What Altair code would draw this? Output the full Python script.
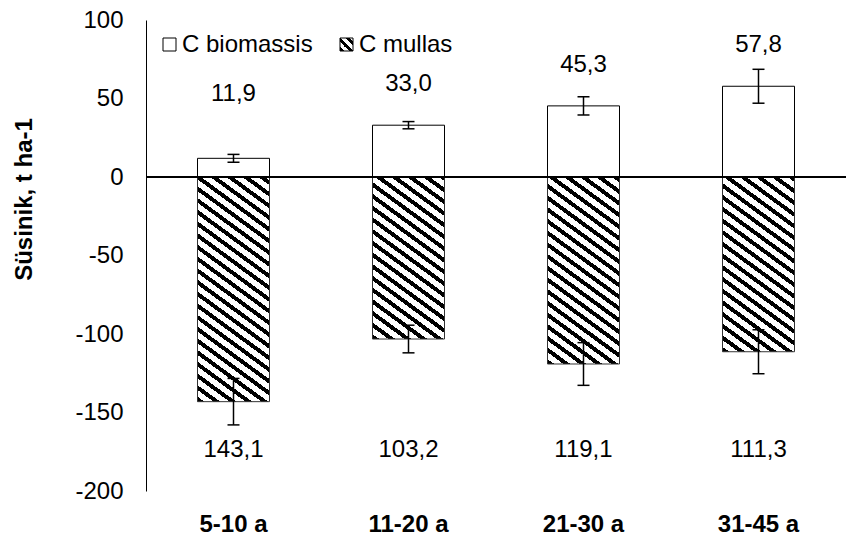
import math
import altair as alt
import pandas as pd

# ---------------- data ----------------
categories = ["5-10 a", "11-20 a", "21-30 a", "31-45 a"]
c_biomass = [11.9, 33.0, 45.3, 57.8]
c_biomass_err = [2.5, 2.3, 5.8, 10.8]
c_soil = [-143.1, -103.2, -119.1, -111.3]
c_soil_err = [14.8, 8.8, 13.6, 14.0]
y_ticks = [-200, -150, -100, -50, 0, 50, 100]
legend_labels = ["C biomassis", "C mullas"]

# ---------------- layout / style ----------------
FONT = "Liberation Sans"
W, H = 700, 471
Y_MIN, Y_MAX = -200, 100
PX_PER_UNIT = H / (Y_MAX - Y_MIN)
BAR_W = 72
FS = 24


def hatch(w, h, ph=16.0, pv=11.7, frac=0.42):
    """Diagonal black/white stripes as a linear gradient (SVG bbox units)."""
    a = w / ph
    b = h / pv
    n = a + b
    c = n / (a * a + b * b)
    x2 = c * a
    y2 = 1 - c * b
    stops = []
    k = 0
    while k < n:
        s = min(k / n, 1)
        e = min((k + frac) / n, 1)
        nx = min((k + 1) / n, 1)
        stops += [(s, "black"), (e, "black"), (e, "white"), (nx, "white")]
        k += 1
    return alt.LinearGradient(
        gradient="linear",
        stops=[alt.GradientStop(offset=o, color=col) for o, col in stops],
        x1=0, y1=1, x2=x2, y2=y2,
    )


df = pd.DataFrame({
    "cat": categories * 2,
    "series": ["bio"] * len(categories) + ["soil"] * len(categories),
    "value": c_biomass + c_soil,
    "err": c_biomass_err + c_soil_err,
})

xscale = alt.Scale(paddingInner=0, paddingOuter=0)
yscale = alt.Scale(domain=[Y_MIN, Y_MAX], nice=False, zero=False)

xaxis = alt.Axis(title=None, labelAngle=0, labelFontSize=FS, labelFontWeight="bold",
                 labelColor="black", labelPadding=21, domain=False, ticks=False,
                 labelFont=FONT)
yaxis = alt.Axis(values=y_ticks, title="Süsinik, t ha-1", grid=False, ticks=False,
                 domainColor="black", domainWidth=1, labelPadding=23,
                 labelExpr="'' + datum.value",
                 labelFontSize=FS, labelColor="black", labelFont=FONT,
                 titleFont=FONT, titleFontSize=FS, titleFontWeight="bold",
                 titleColor="black", titleX=-122, titleY=179, titleAngle=270,
                 titleAlign="center", titleBaseline="middle")


def X():
    return alt.X("cat:N", sort=categories, scale=xscale, axis=xaxis)


def Y(field):
    return alt.Y(f"{field}:Q", scale=yscale, axis=yaxis)


base = alt.Chart(df)

bars_bio = base.transform_filter("datum.series == 'bio'").mark_bar(
    size=BAR_W, fill="white", stroke="black", strokeWidth=1
).encode(x=X(), y=Y("value"), y2=alt.datum(0))

soil_layers = []
for cat, v in zip(categories, c_soil):
    soil_layers.append(
        base.transform_filter(
            f"datum.series == 'soil' && datum.cat == '{cat}'"
        ).mark_bar(
            size=BAR_W, fill=hatch(BAR_W, abs(v) * PX_PER_UNIT),
            stroke="#333333", strokeWidth=1
        ).encode(x=X(), y=Y("value"), y2=alt.datum(0))
    )

zero_line = base.transform_filter("datum.series == 'bio' && datum.cat == '%s'" % categories[0]).transform_calculate(
    z="0"
).mark_rule(color="black", strokeWidth=2).encode(y=Y("z"))

err_base = base.transform_calculate(
    lo="datum.value - datum.err", hi="datum.value + datum.err"
)
err_rule = err_base.mark_rule(color="black", strokeWidth=1.5).encode(
    x=X(), y=Y("lo"), y2="hi:Q"
)
cap_shape = "M-1,0L1,0"
err_cap_lo = err_base.mark_point(shape=cap_shape, size=144, filled=False,
                                  stroke="black", strokeWidth=1.5, opacity=1).encode(
    x=X(), y=Y("lo")
)
err_cap_hi = err_base.mark_point(shape=cap_shape, size=144, filled=False,
                                  stroke="black", strokeWidth=1.5, opacity=1).encode(
    x=X(), y=Y("hi")
)

lbl_expr = "replace(format(abs(datum.value), '.1f'), '.', ',')"
labels_bio = base.transform_filter("datum.series == 'bio'").transform_calculate(
    ly="max(datum.value + 26, 53)", lbl=lbl_expr
).mark_text(font=FONT, fontSize=FS, color="black", baseline="middle").encode(
    x=X(), y=Y("ly"), text="lbl:N"
)
labels_soil = base.transform_filter("datum.series == 'soil'").transform_calculate(
    ly="-174", lbl=lbl_expr
).mark_text(font=FONT, fontSize=FS, color="black", baseline="middle").encode(
    x=X(), y=Y("ly"), text="lbl:N"
)

# ---------------- legend (manual, top-left inside the plot) ----------------
leg_data = alt.Data(values=[{"a": 1}])
leg_sq1 = alt.Chart(leg_data).mark_rect(fill="white", stroke="black", strokeWidth=1).encode(
    x=alt.value(17), x2=alt.value(30), y=alt.value(18), y2=alt.value(31)
)
leg_sq2 = alt.Chart(leg_data).mark_rect(fill=hatch(13, 13, 9, 9, 0.55), stroke="black", strokeWidth=1).encode(
    x=alt.value(194), x2=alt.value(207), y=alt.value(18), y2=alt.value(31)
)
leg_t1 = alt.Chart(alt.Data(values=[{"t": legend_labels[0]}])).mark_text(
    font=FONT, fontSize=FS, color="black", align="left", baseline="middle"
).encode(x=alt.value(36), y=alt.value(25), text="t:N")
leg_t2 = alt.Chart(alt.Data(values=[{"t": legend_labels[1]}])).mark_text(
    font=FONT, fontSize=FS, color="black", align="left", baseline="middle"
).encode(x=alt.value(213), y=alt.value(25), text="t:N")

chart = alt.layer(
    bars_bio, *soil_layers, zero_line, err_rule, err_cap_lo, err_cap_hi,
    labels_bio, labels_soil, leg_sq1, leg_sq2, leg_t1, leg_t2
).properties(
    width=W, height=H,
    padding={"left": 146, "top": 20, "right": 7, "bottom": 48},
    autosize=alt.AutoSizeParams(type="none"),
    background="white",
).configure(font=FONT).configure_view(stroke=None)

chart.save("out.html", embed_options={"renderer": "svg", "actions": False})
